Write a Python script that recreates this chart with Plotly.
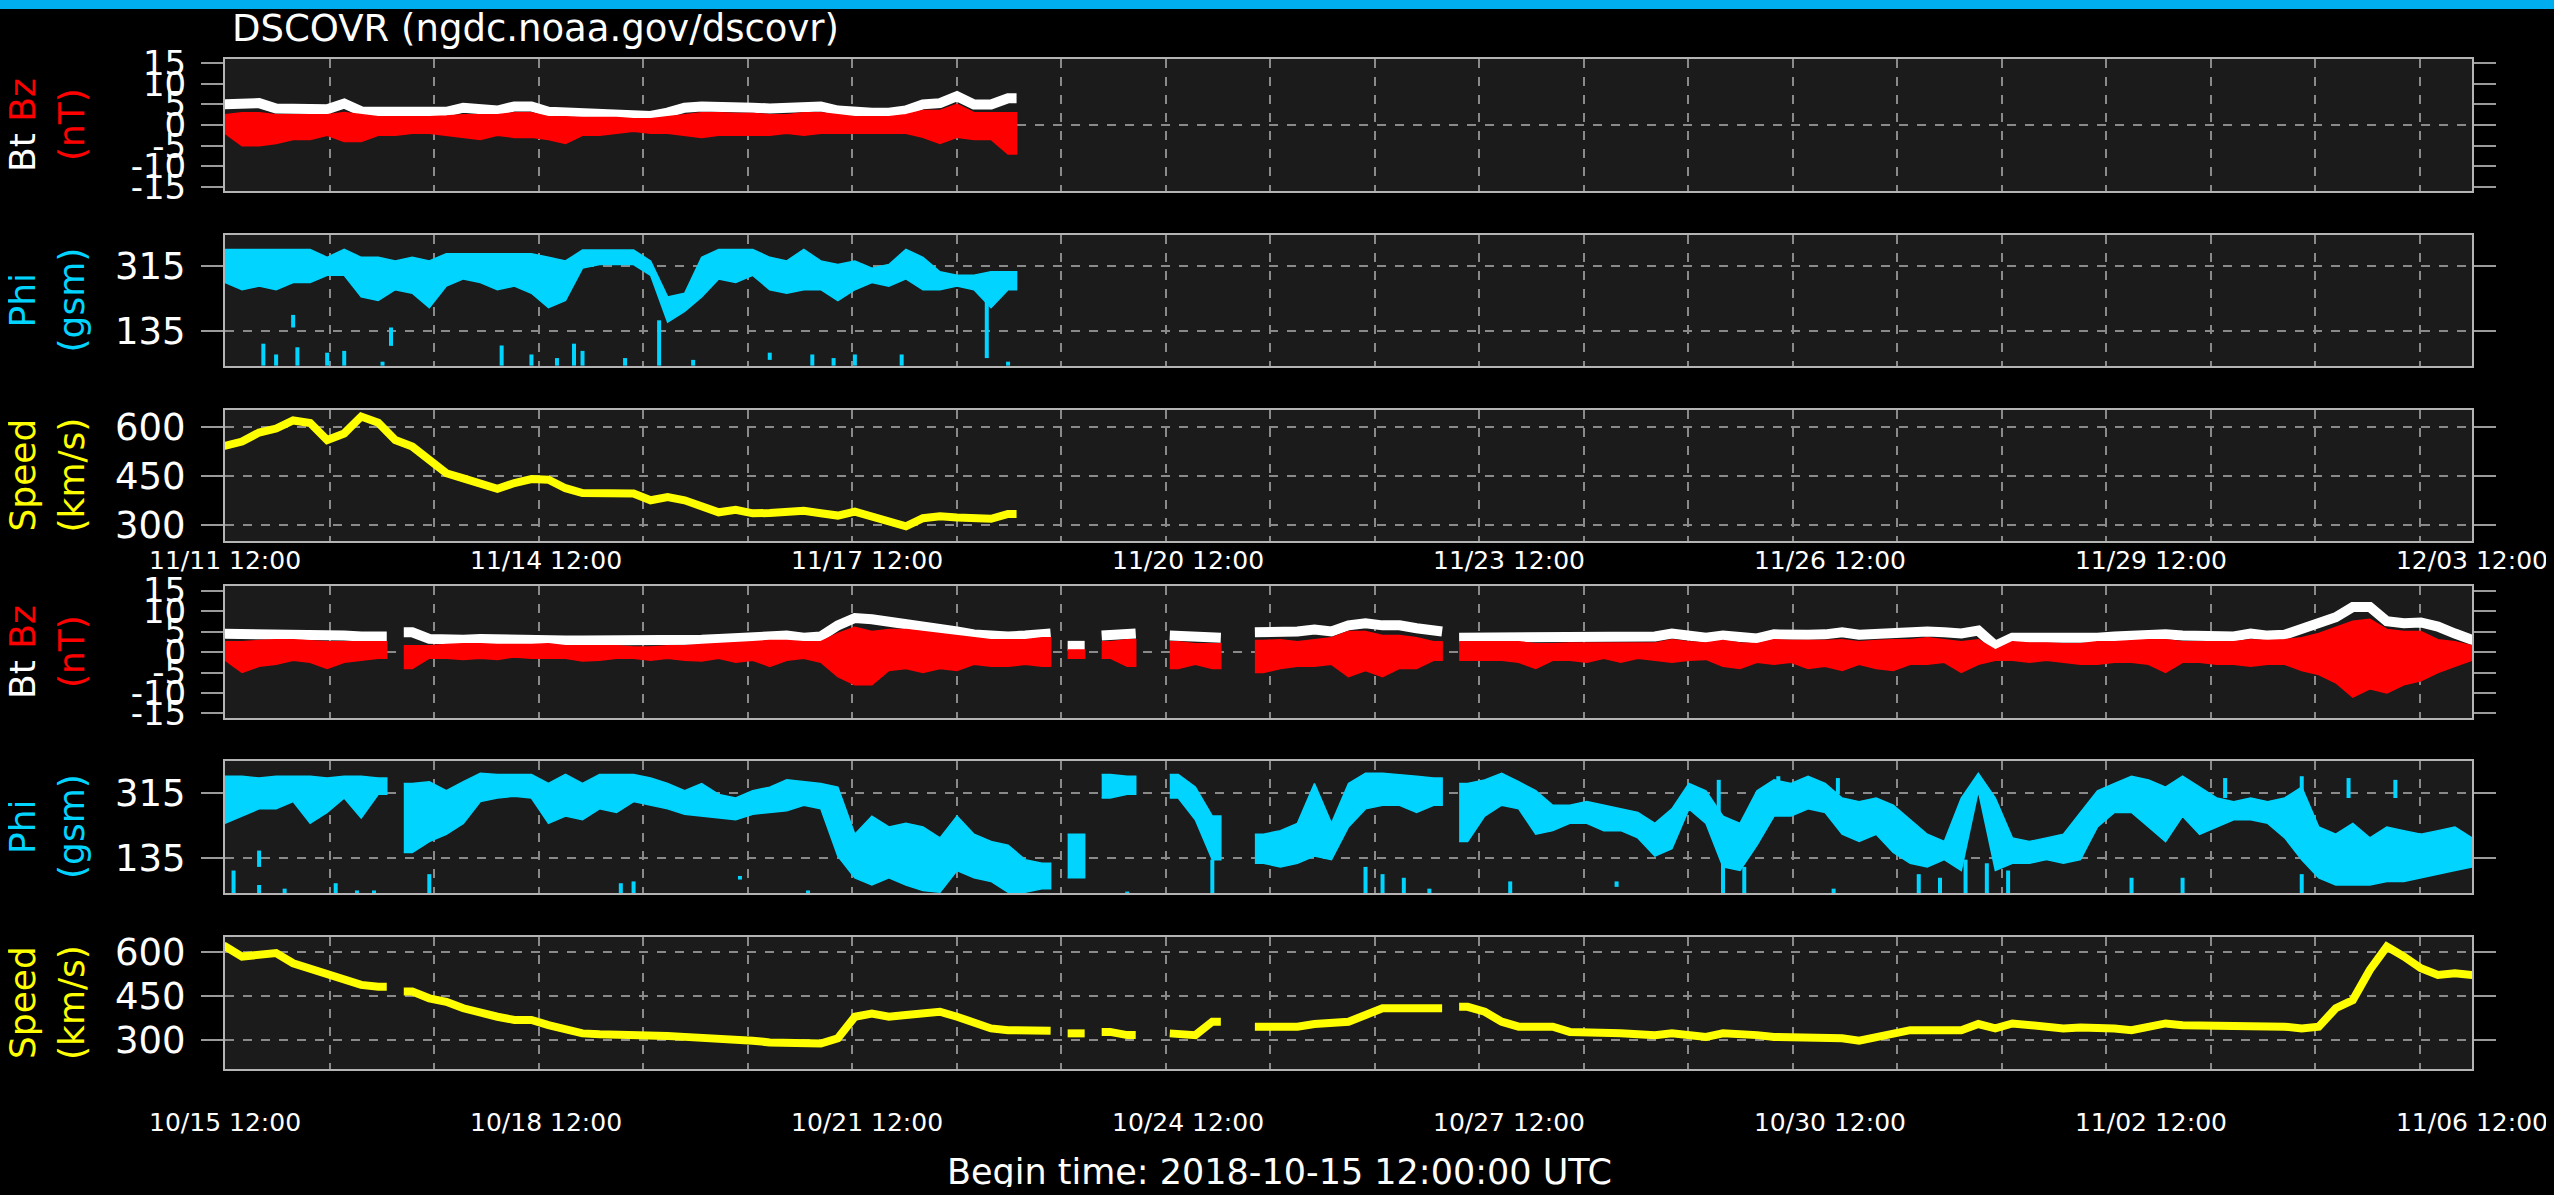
import plotly.graph_objects as go

# ---------------- data ----------------
STEP_H = 4      # hours between readings
SPAN_H = 528    # each time axis spans 22 days

top_ticktext = ["11/11 12:00", "11/14 12:00", "11/17 12:00", "11/20 12:00",
                "11/23 12:00", "11/26 12:00", "11/29 12:00", "12/03 12:00"]
bot_ticktext = ["10/15 12:00", "10/18 12:00", "10/21 12:00", "10/24 12:00",
                "10/27 12:00", "10/30 12:00", "11/02 12:00", "11/06 12:00"]

bz_ticks = [-15, -10, -5, 0, 5, 10, 15]
phi_ticks = [135, 315]
speed_ticks = [300, 450, 600]

# ---- upper group (from 11/11 12:00) ----
top_bt = [5.0, 5.0, 5.3, 4.0, 3.8, 3.8, 3.8, 5.2, 3.3, 3.2,
          3.2, 3.0, 3.0, 3.2, 4.2, 3.8, 3.5, 4.5, 4.5, 3.2,
          3.0, 3.0, 2.8, 2.8, 2.2, 2.2, 3.0, 4.2, 4.5, 4.2,
          4.2, 4.2, 4.0, 4.2, 4.5, 4.5, 3.5, 3.0, 3.0, 3.0,
          3.5, 5.0, 5.3, 7.0, 5.0, 5.0, 6.5]
top_bz_hi = [2.5, 3.0, 3.0, 2.5, 2.5, 2.5, 2.5, 3.0, 2.5, 2.0,
             2.0, 2.0, 2.0, 2.2, 2.5, 2.5, 2.5, 3.0, 3.0, 2.0,
             2.0, 1.8, 1.8, 1.8, 1.5, 1.5, 2.0, 2.5, 3.0, 3.0,
             2.8, 2.8, 2.5, 2.5, 3.0, 3.0, 2.5, 2.0, 2.0, 2.0,
             2.5, 3.5, 3.5, 5.0, 3.0, 3.0, 3.0]
top_bz_lo = [-2.0, -5.0, -5.0, -4.5, -3.5, -3.5, -2.5, -4.0, -4.0, -2.5,
             -2.5, -2.0, -2.0, -2.5, -3.0, -3.5, -2.5, -3.0, -3.0, -3.5,
             -4.5, -2.5, -2.5, -2.0, -1.5, -2.0, -2.0, -2.5, -3.0, -2.5,
             -2.5, -2.5, -2.5, -2.0, -2.5, -2.0, -2.0, -2.0, -2.0, -2.0,
             -2.0, -3.0, -4.5, -3.0, -3.5, -3.5, -7.0]
top_phi_hi = [362, 362, 362, 362, 362, 362, 340, 362, 340, 340,
              330, 340, 330, 350, 350, 350, 350, 350, 350, 340,
              330, 360, 360, 360, 360, 330, 230, 240, 340, 362,
              362, 362, 340, 330, 362, 330, 320, 330, 310, 320,
              362, 340, 300, 290, 290, 300, 300]
top_phi_lo = [270, 250, 260, 250, 270, 270, 290, 290, 230, 220,
              250, 240, 200, 260, 280, 270, 250, 260, 240, 200,
              220, 310, 320, 320, 320, 290, 160, 190, 230, 280,
              270, 290, 250, 240, 250, 250, 220, 250, 270, 260,
              280, 250, 250, 260, 250, 200, 250]
top_speed = [542, 555, 583, 595, 620, 612, 560, 580, 632, 613,
             560, 540, 500, 458, 442, 428, 410, 428, 440, 438,
             412, 397, 395, 399, 396, 375, 385, 375, 355, 338,
             346, 335, 336, 338, 343, 335, 328, 340, 325, 310,
             295, 320, 326, 322, 318, 318, 333]
top_phi_out_t = [9, 12, 16, 17, 24, 28, 37, 39, 65, 72, 78, 82, 84, 94, 102, 110,
                 128, 138, 143, 148, 159, 179, 184]
top_phi_out_lo = [39, 39, 145, 39, 39, 39, 39, 94, 39, 39, 39, 39, 39, 39, 39, 39,
                  55, 39, 39, 39, 39, 60, 39]
top_phi_out_hi = [100, 70, 180, 90, 75, 80, 50, 145, 95, 70, 60, 100, 80, 60, 165, 55,
                  75, 70, 60, 70, 70, 220, 50]

# ---- lower group (from 10/15 12:00) ----
bot_bt = [4.5, 4.3, 4.2, 4.5, 4.6, 4.3, 4.0, 4.0, 3.8, 3.8,
          None, 4.8, 3.2, 2.8, 3.0, 3.2, 3.0, 3.0, 2.8, 3.0,
          2.8, 2.8, 2.8, 2.5, 2.5, 2.5, 2.8, 2.8, 3.0, 3.2,
          3.5, 3.5, 3.8, 4.0, 3.5, 3.8, 6.5, 8.3, 8.0, 7.5,
          7.0, 6.5, 5.8, 5.0, 4.3, 3.8, 3.8, 4.0, 4.5, None,
          1.5, None, 4.0, 4.5, None, None, 4.0, 3.5, 3.5, None,
          None, 4.8, 5.0, 5.0, 5.5, 5.0, 6.5, 7.0, 6.5, 6.5,
          5.8, 5.0, None, 3.5, 3.5, 3.8, 4.0, 3.5, 3.5, 3.5,
          3.5, 3.5, 3.5, 3.5, 3.8, 4.5, 3.8, 3.5, 4.0, 3.5,
          3.3, 4.3, 4.0, 4.2, 4.3, 4.8, 4.2, 4.5, 4.8, 4.5,
          5.0, 4.8, 4.5, 5.2, 1.5, 3.5, 3.5, 3.5, 3.2, 3.0,
          3.5, 3.8, 4.0, 4.5, 4.3, 4.0, 3.8, 3.8, 3.8, 4.5,
          4.0, 4.2, 5.5, 7.0, 8.5, 11.0, 11.0, 7.5, 7.0, 7.2,
          6.2, 4.5, 3.0]
bot_bz_hi = [2.5, 2.5, 2.8, 3.0, 3.0, 2.8, 2.5, 2.5, 2.5, 2.5,
             None, 1.5, 1.5, 1.8, 2.0, 2.0, 1.8, 1.8, 1.8, 2.0,
             1.5, 1.5, 1.5, 1.5, 1.2, 1.2, 1.5, 1.5, 1.8, 2.0,
             2.2, 2.5, 2.8, 2.8, 2.5, 2.5, 4.5, 6.0, 5.0, 5.5,
             5.5, 5.0, 4.5, 4.0, 3.5, 3.0, 3.0, 3.0, 3.5, None,
             0.5, None, 2.5, 3.0, None, None, 2.5, 2.0, 2.0, None,
             None, 2.8, 3.0, 2.5, 3.0, 3.5, 5.0, 5.0, 4.0, 4.0,
             3.5, 2.5, None, 2.5, 2.5, 2.5, 2.5, 2.0, 2.0, 2.2,
             2.2, 2.2, 2.2, 2.2, 2.2, 3.0, 2.5, 2.2, 2.8, 2.2,
             2.0, 3.0, 2.8, 2.8, 2.8, 3.0, 2.5, 2.8, 3.0, 3.0,
             3.5, 3.0, 2.5, 3.0, 0.5, 2.5, 2.2, 2.2, 2.0, 2.0,
             2.5, 2.5, 2.8, 3.0, 3.0, 2.5, 2.5, 2.5, 2.5, 3.0,
             2.8, 3.0, 3.5, 4.5, 6.0, 7.5, 8.0, 5.5, 5.0, 5.0,
             3.0, 2.5, 1.5]
bot_bz_lo = [-2.0, -5.0, -3.5, -3.0, -2.0, -2.5, -4.0, -2.5, -2.0, -1.5,
             None, -4.0, -1.5, -1.5, -1.8, -1.5, -1.8, -1.2, -1.5, -1.5,
             -1.5, -2.2, -2.0, -1.5, -1.5, -2.0, -1.5, -2.0, -2.2, -1.5,
             -2.5, -2.0, -3.5, -2.0, -1.5, -2.5, -6.0, -8.0, -8.0, -4.5,
             -4.0, -5.0, -4.0, -4.5, -3.0, -3.5, -3.5, -3.0, -3.5, None,
             -1.5, None, -1.5, -3.5, None, None, -4.0, -3.0, -4.0, None,
             None, -5.0, -4.0, -3.5, -3.5, -3.0, -6.0, -4.5, -6.0, -4.0,
             -4.0, -2.0, None, -2.0, -2.0, -2.0, -2.5, -4.0, -2.0, -2.0,
             -2.5, -1.5, -2.5, -1.5, -2.0, -2.5, -2.0, -1.8, -3.5, -4.0,
             -2.5, -3.0, -2.5, -4.0, -3.5, -4.5, -3.0, -4.0, -4.5, -3.0,
             -3.0, -2.5, -5.0, -3.0, -2.0, -2.0, -2.5, -2.0, -2.5, -3.0,
             -3.0, -2.5, -2.5, -3.0, -5.0, -2.5, -2.5, -3.0, -3.0, -3.5,
             -3.0, -3.0, -4.5, -5.5, -7.5, -11.0, -9.0, -10.0, -8.0, -7.0,
             -5.0, -3.5, -2.0]
bot_phi_hi = [360, 360, 355, 360, 360, 360, 355, 360, 360, 355,
              None, 340, 345, 320, 345, 368, 365, 365, 365, 340,
              365, 340, 365, 365, 365, 355, 340, 320, 340, 310,
              300, 320, 330, 350, 345, 340, 330, 200, 250, 220,
              230, 220, 190, 250, 200, 180, 170, 130, 120, None,
              200, None, 365, 360, None, None, 365, 330, 250, None,
              None, 200, 210, 230, 340, 230, 340, 368, 368, 365,
              360, 355, None, 340, 350, 368, 345, 320, 280, 280,
              290, 280, 270, 260, 230, 270, 340, 320, 250, 230,
              320, 350, 340, 360, 340, 300, 290, 300, 280, 240,
              200, 180, 300, 368, 300, 190, 180, 190, 200, 260,
              320, 340, 360, 350, 330, 360, 330, 300, 290, 300,
              290, 300, 330, 220, 200, 230, 190, 220, 210, 200,
              210, 220, 190]
bot_phi_lo = [230, 250, 270, 270, 290, 230, 260, 300, 245, 310,
              None, 150, 180, 200, 230, 290, 300, 305, 300, 230,
              250, 240, 270, 260, 290, 280, 270, 255, 250, 245,
              240, 255, 260, 265, 280, 270, 140, 80, 60, 80,
              60, 45, 40, 100, 80, 70, 40, 40, 50, None,
              80, None, 300, 310, None, None, 300, 240, 130, None,
              None, 120, 110, 120, 140, 130, 220, 270, 280, 280,
              260, 280, None, 180, 250, 280, 270, 200, 210, 230,
              230, 210, 210, 190, 140, 160, 270, 230, 110, 100,
              170, 250, 250, 270, 260, 200, 180, 200, 150, 120,
              110, 130, 100, 320, 100, 120, 120, 130, 120, 130,
              220, 260, 260, 220, 180, 250, 200, 220, 240, 240,
              230, 190, 130, 80, 60, 60, 60, 70, 70, 80,
              90, 100, 110]
bot_speed = [620, 585, 591, 597, 562, 545, 522, 505, 488, 482,
             None, 465, 442, 430, 408, 390, 379, 368, 368, 350,
             333, 322, 319, 319, 319, 316, 313, 310, 308, 305,
             299, 297, 291, 290, 287, 287, 305, 379, 390, 379,
             385, 390, 396, 379, 356, 339, 333, 333, 331, None,
             322, None, 327, 316, None, None, 322, 316, 362, None,
             None, 345, 339, 345, 354, 358, 362, 385, 408, 408,
             408, 408, None, 413, 396, 362, 345, 345, 345, 327,
             327, 327, 322, 319, 316, 322, 319, 310, 322, 322,
             316, 310, 310, 305, 305, 305, 297, 310, 327, 333,
             333, 333, 333, 354, 339, 356, 350, 345, 339, 342,
             343, 339, 333, 345, 356, 350, 350, 345, 345, 345,
             345, 345, 339, 345, 408, 436, 539, 619, 585, 545,
             522, 528, 522]
bot_phi_out_t = [2, 8, 8, 14, 26, 31, 35, 48, 93, 96, 121, 137, 212, 232, 268, 272, 277,
                 283, 302, 327, 351, 352, 357, 365, 378, 379, 398, 403, 409, 414, 419,
                 448, 460, 470, 488, 488, 499, 510]
bot_phi_out_lo = [36, 36, 110, 36, 36, 36, 36, 36, 36, 36, 75, 36, 36, 36, 36, 36, 36,
                  36, 36, 55, 260, 36, 36, 300, 36, 310, 36, 36, 36, 36, 36,
                  36, 36, 300, 36, 300, 300, 300]
bot_phi_out_hi = [100, 60, 155, 50, 65, 45, 45, 90, 65, 70, 85, 45, 42, 130, 110, 90, 80,
                  50, 70, 70, 350, 130, 110, 360, 50, 355, 90, 80, 130, 120, 100,
                  80, 80, 355, 90, 360, 355, 350]

for arr in (top_bt, top_bz_hi, top_bz_lo, top_phi_hi, top_phi_lo, top_speed):
    assert len(arr) == 47, len(arr)
for arr in (bot_bt, bot_bz_hi, bot_bz_lo, bot_phi_hi, bot_phi_lo, bot_speed):
    assert len(arr) == 133, len(arr)

# ---------------- helpers ----------------
PAD = STEP_H / 2.0


def _segments(*series):
    n = len(series[0])
    segs, cur = [], []
    for k in range(n):
        if any(s[k] is None for s in series):
            if cur:
                segs.append(cur)
            cur = []
        else:
            cur.append(k)
    if cur:
        segs.append(cur)
    return segs


def line_xy(vals):
    xs, ys = [], []
    for seg in _segments(vals):
        tt = [k * STEP_H for k in seg]
        vv = [vals[k] for k in seg]
        xs += [tt[0] - PAD] + tt + [tt[-1] + PAD, None]
        ys += [vv[0]] + vv + [vv[-1], None]
    return xs, ys


def band_xy(lo, hi):
    xs, ys = [], []
    for seg in _segments(lo, hi):
        tt = [k * STEP_H for k in seg]
        tt = [tt[0] - PAD] + tt + [tt[-1] + PAD]
        h = [hi[seg[0]]] + [hi[k] for k in seg] + [hi[seg[-1]]]
        l = [lo[seg[0]]] + [lo[k] for k in seg] + [lo[seg[-1]]]
        xs += tt + tt[::-1] + [None]
        ys += h + l[::-1] + [None]
    return xs, ys


def streak_xy(ts, los, his):
    xs, ys = [], []
    for t, a, b in zip(ts, los, his):
        xs += [t, t, None]
        ys += [a, b, None]
    return xs, ys


# ---------------- figure ----------------
# The page body keeps its default 8px margin, so the figure is 16px smaller
# than the window and every position below is given in window pixels.
WIN_W, WIN_H = 2554, 1195
OFF = 8
FW, FH = WIN_W - 2 * OFF, WIN_H - 2 * OFF


def px_x(x):
    return (x - OFF) / FW


def px_y(y):
    return 1 - (y - OFF) / FH


PLOT_L, PLOT_R = 225, 2472
panels_px = [(59, 191), (235, 366), (410, 541), (586, 718), (761, 893), (937, 1069)]
FONT = "DejaVu Sans"
WHITE, RED, CYAN, YELLOW = "#ffffff", "#ff0000", "#00d4ff", "#ffff00"

fig = go.Figure()

groups = [
    dict(bt=top_bt, bzl=top_bz_lo, bzh=top_bz_hi, pl=top_phi_lo, ph=top_phi_hi, sp=top_speed,
         ot=top_phi_out_t, ol=top_phi_out_lo, oh=top_phi_out_hi, ax=(1, 2, 3)),
    dict(bt=bot_bt, bzl=bot_bz_lo, bzh=bot_bz_hi, pl=bot_phi_lo, ph=bot_phi_hi, sp=bot_speed,
         ot=bot_phi_out_t, ol=bot_phi_out_lo, oh=bot_phi_out_hi, ax=(4, 5, 6)),
]


def axname(n, letter):
    return letter if n == 1 else f"{letter}{n}"


for g in groups:
    a_b, a_p, a_s = g["ax"]
    x, y = line_xy(g["bt"])
    fig.add_trace(go.Scatter(x=x, y=y, mode="lines", line=dict(color=WHITE, width=10),
                             xaxis=axname(a_b, "x"), yaxis=axname(a_b, "y"), hoverinfo="skip"))
    x, y = band_xy(g["bzl"], g["bzh"])
    fig.add_trace(go.Scatter(x=x, y=y, mode="lines", fill="toself", fillcolor=RED,
                             line=dict(color=RED, width=1.5),
                             xaxis=axname(a_b, "x"), yaxis=axname(a_b, "y"), hoverinfo="skip"))
    x, y = band_xy(g["pl"], g["ph"])
    fig.add_trace(go.Scatter(x=x, y=y, mode="lines", fill="toself", fillcolor=CYAN,
                             line=dict(color=CYAN, width=1.5),
                             xaxis=axname(a_p, "x"), yaxis=axname(a_p, "y"), hoverinfo="skip"))
    x, y = streak_xy(g["ot"], g["ol"], g["oh"])
    fig.add_trace(go.Scatter(x=x, y=y, mode="lines", line=dict(color=CYAN, width=4),
                             xaxis=axname(a_p, "x"), yaxis=axname(a_p, "y"), hoverinfo="skip"))
    x, y = line_xy(g["sp"])
    fig.add_trace(go.Scatter(x=x, y=y, mode="lines", line=dict(color=YELLOW, width=8),
                             xaxis=axname(a_s, "x"), yaxis=axname(a_s, "y"), hoverinfo="skip"))

GRID_STEP = SPAN_H / 21.5
tickvals_x = [k * SPAN_H / 7 for k in range(8)]
BORDER = "#b4b4b4"
GRIDC = "#8a8a8a"
TICKC = "#9a9a9a"

yranges = [[-16, 16], [38, 402], [250, 652], [-16.1, 16.1], [38, 402], [200, 652]]
yticks = [bz_ticks, phi_ticks, speed_ticks, bz_ticks, phi_ticks, speed_ticks]

layout_axes = {}
for n in range(1, 7):
    top, bot = panels_px[n - 1]
    show_lab = n in (3, 6)
    ticktext = top_ticktext if n <= 3 else bot_ticktext
    layout_axes[("xaxis" if n == 1 else f"xaxis{n}")] = dict(
        domain=[px_x(PLOT_L), px_x(PLOT_R)], anchor=axname(n, "y"), automargin=False,
        range=[-0.01, SPAN_H + 0.01], showline=True, mirror=True, linecolor=BORDER, linewidth=2,
        tickmode="array", tickvals=tickvals_x, ticktext=ticktext, showticklabels=show_lab,
        ticks="", showgrid=False, zeroline=False, ticklabeloverflow="allow",
        tickfont=dict(family=FONT, size=25, color=WHITE),
        ticklabelstandoff=(-4 if n == 3 else 30),
        minor=dict(tickmode="linear", tick0=GRID_STEP, dtick=GRID_STEP, showgrid=True,
                   gridcolor=GRIDC, griddash="dash", gridwidth=1.5, ticks=""),
    )
    is_bz = n in (1, 4)
    layout_axes[("yaxis" if n == 1 else f"yaxis{n}")] = dict(
        domain=[px_y(bot), px_y(top)], anchor=axname(n, "x"), automargin=False,
        range=yranges[n - 1], showline=True, mirror="ticks", linecolor=BORDER, linewidth=2,
        tickmode="array", tickvals=yticks[n - 1], ticktext=[str(v) for v in yticks[n - 1]],
        ticks="outside", ticklen=22, tickwidth=2, tickcolor=TICKC,
        showgrid=not is_bz, gridcolor=GRIDC, griddash="dash", gridwidth=2,
        zeroline=False, ticklabeloverflow="allow",
        tickfont=dict(family=FONT, size=(34 if is_bz else 37), color=WHITE),
        ticklabelstandoff=8,
    )

shapes = [dict(type="rect", xref="paper", yref="paper", x0=0, x1=1, y0=px_y(9), y1=1,
               fillcolor="#00aeef", line=dict(width=0), layer="above")]
for n in (1, 4):
    shapes.append(dict(type="line", xref=axname(n, "x"), yref=axname(n, "y"),
                       x0=0, x1=SPAN_H, y0=0, y1=0, line=dict(color=GRIDC, width=2, dash="dash"),
                       layer="below"))


def ann(text, xpx, ypx, size, color, angle=0, xanchor="center"):
    return dict(text=text, x=px_x(xpx), y=px_y(ypx), xref="paper", yref="paper",
                showarrow=False, textangle=angle, xanchor=xanchor, yanchor="middle",
                font=dict(family=FONT, size=size, color=color))


annotations = [ann("DSCOVR (ngdc.noaa.gov/dscovr)", 230, 29, 37, WHITE, xanchor="left"),
               ann("Begin time: 2018-10-15 12:00:00 UTC", 1280, 1172, 35, WHITE)]
for n in range(1, 7):
    top, bot = panels_px[n - 1]
    cy = (top + bot) / 2
    if n in (1, 4):
        annotations.append(ann("Bt <span style='color:#ff0000'>Bz</span>", 22, cy, 36, WHITE, -90))
        annotations.append(ann("(nT)", 71, cy, 36, RED, -90))
    elif n in (2, 5):
        annotations.append(ann("Phi", 22, cy, 36, CYAN, -90))
        annotations.append(ann("(gsm)", 71, cy, 36, CYAN, -90))
    else:
        annotations.append(ann("Speed", 22, cy, 36, YELLOW, -90))
        annotations.append(ann("(km/s)", 71, cy, 36, YELLOW, -90))

fig.update_layout(
    width=FW, height=FH, autosize=False, margin=dict(l=0, r=0, t=0, b=0, pad=0, autoexpand=False),
    paper_bgcolor="#000000", plot_bgcolor="#1b1b1b", showlegend=False,
    font=dict(family=FONT, color=WHITE),
    shapes=shapes, annotations=annotations, **layout_axes,
)

fig.write_html(
    "out.html",
    config={"displayModeBar": False},
    post_script=("document.documentElement.style.background="
                 "'linear-gradient(#00aeef 0px, #00aeef 9px, #000000 9px)';"
                 "document.querySelectorAll('.main-svg').forEach(function(s){"
                 "s.style.overflow='visible';});"),
)
